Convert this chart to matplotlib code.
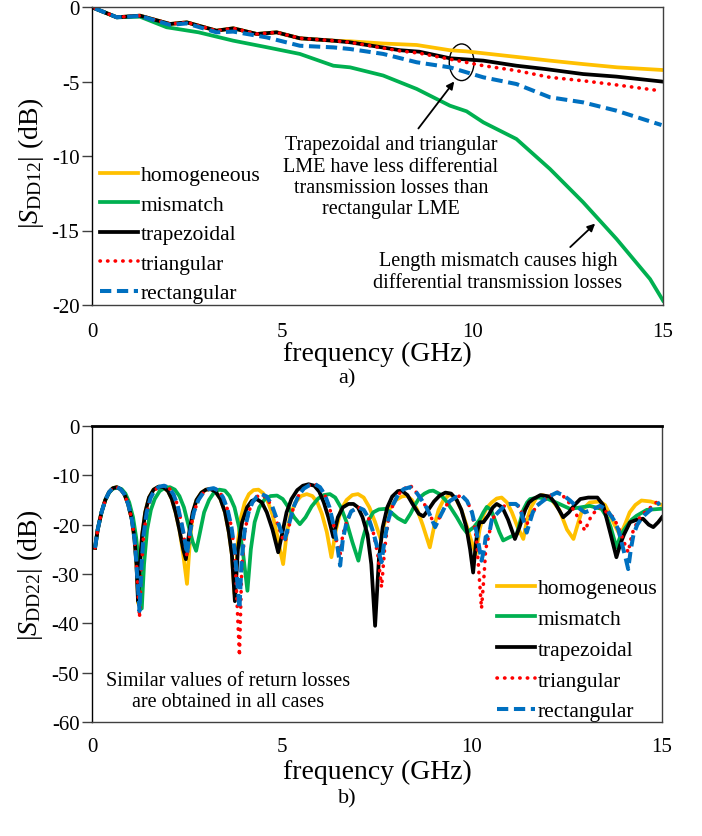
import matplotlib
matplotlib.use("Agg")
import matplotlib.pyplot as plt
from matplotlib.patches import Ellipse

plt.rcParams['font.family'] = ['Liberation Serif', 'DejaVu Serif']
plt.rcParams['mathtext.fontset'] = 'custom'
plt.rcParams['mathtext.rm'] = 'Liberation Serif'
plt.rcParams['mathtext.it'] = 'Liberation Serif:italic'
plt.rcParams['axes.unicode_minus'] = False

labels = ["homogeneous", "mismatch", "trapezoidal", "triangular", "rectangular"]
colors = ["#FFC000", "#00B050", "#000000", "#FF0000", "#0070C0"]

# ---------------- a) |S_DD12| -----------------
f12_common = [0.08, 0.65, 1.26, 2.05, 2.49, 3.27, 3.71, 4.33, 4.85, 5.46, 6.34]
s12_common = [-0.1, -0.69, -0.58, -1.14, -1.03, -1.59, -1.43, -1.81, -1.7, -2.1, -2.26]

f12_homo = f12_common + [6.78, 7.65, 8.53, 9.4, 9.84, 11.15, 12.03, 12.9, 13.8, 15.0]
s12_homo = s12_common + [-2.3, -2.45, -2.55, -2.9, -2.98, -3.35, -3.6, -3.83, -4.05, -4.23]

f12_trap = f12_common + [6.78, 8.09, 8.6, 9.4, 10.28, 11.15, 11.9, 12.9, 13.77, 15.0]
s12_trap = s12_common + [-2.37, -2.9, -3.0, -3.44, -3.6, -3.94, -4.16, -4.5, -4.67, -5.01]

f12_tri = f12_common + [6.78, 8.09, 8.6, 9.4, 10.28, 11.15, 12.03, 12.9, 13.78, 14.92]
s12_tri = s12_common + [-2.37, -2.95, -3.1, -3.5, -3.94, -4.27, -4.72, -4.95, -5.23, -5.62]

f12_rect = [0.08, 0.65, 1.26, 2.05, 2.49, 3.27, 3.71, 4.59, 5.46, 6.34, 6.78, 7.65, 8.53, 9.4, 10.28, 11.15, 12.03, 12.9, 13.78, 14.96]
s12_rect = [-0.1, -0.69, -0.6, -1.2, -1.1, -1.7, -1.65, -2.04, -2.6, -2.71, -2.82, -3.15, -3.71, -4.05, -4.72, -5.17, -6.06, -6.4, -6.96, -7.92]

f12_mis = [0.08, 0.65, 1.26, 1.96, 2.8, 3.71, 4.59, 5.46, 6.34, 6.78, 7.65, 8.53, 9.4, 9.84, 10.28, 11.15, 12.03, 12.9, 13.78, 14.66, 15.0]
s12_mis = [-0.1, -0.69, -0.65, -1.36, -1.7, -2.26, -2.7, -3.15, -3.94, -4.05, -4.6, -5.5, -6.62, -7.0, -7.74, -8.86, -10.87, -13.1, -15.57, -18.26, -19.7]

# ---------------- b) |S_DD22| -----------------
f_arch = [0.08, 0.15, 0.25, 0.35, 0.45, 0.55, 0.65, 0.75, 0.85, 0.95, 1.05, 1.12, 1.17]
s_arch = [-24.7, -21, -17.5, -15, -13.4, -12.6, -12.4, -12.8, -13.8, -15.8, -19, -23, -28]

f_mid = [1.26, 1.32, 1.4, 1.5, 1.62, 1.75, 1.88, 2.0, 2.1, 2.2, 2.3]
s_mid = [-28, -22, -17.5, -14.5, -12.9, -12.3, -12.4, -13.2, -14.8, -17.5, -21]

f22_trap = f_arch + [1.21] + f_mid + [2.4, 2.47, 2.55, 2.65, 2.75, 2.88, 3.0, 3.12, 3.25, 3.38, 3.5, 3.6, 3.68, 3.76,
    3.84, 3.95, 4.08, 4.2, 4.33, 4.47, 4.6, 4.75, 4.9, 5.0, 5.12, 5.25, 5.4, 5.55, 5.7, 5.85, 5.98, 6.1, 6.22, 6.35,
    6.47, 6.6, 6.75, 6.88, 7.0, 7.12, 7.25, 7.35, 7.45, 7.55, 7.65, 7.77, 7.9, 8.05, 8.15, 8.3, 8.45, 8.6, 8.72, 8.85,
    9.0, 9.15, 9.3, 9.45, 9.6, 9.72, 9.85, 9.95, 10.03, 10.1, 10.15, 10.2, 10.3, 10.44, 10.55, 10.65, 10.8, 10.95,
    11.13, 11.25, 11.4, 11.5, 11.61, 11.8, 12.05, 12.2, 12.4, 12.55, 12.7, 12.85, 13.06, 13.3, 13.45, 13.55, 13.65,
    13.8, 13.9, 14.0, 14.16, 14.34, 14.5, 14.65, 14.77, 14.9, 15.0]
s22_trap = s_arch + [-35.5] + s_mid + [-25, -27, -22, -17.5, -15, -13.5, -12.9, -12.8, -13.3, -14.8, -17.5, -21.5, -26, -35.5,
    -25, -19.5, -16.5, -15.2, -14.8, -15.5, -17.5, -21, -25.6, -22, -17.5, -14.8, -13, -12.1, -11.8, -12.1, -13.3, -15.5, -18.5, -22.5,
    -18.5, -16.5, -15.8, -15.8, -16.5, -18.5, -22, -28, -40.5, -27, -20.5, -16.5, -14.3, -13.2, -13.1, -14, -16, -17.8, -18.3, -17,
    -15.3, -14.1, -13.5, -13.7, -15, -17, -20.5, -25, -29.7, -24, -21, -19.5, -19.5, -18, -16.5, -15.8, -16.5, -19,
    -22.9, -20.5, -17, -15.5, -14.8, -14, -14.3, -15.8, -18.5, -17.5, -16, -14.8, -14.5, -14.5, -16, -19, -22,
    -26.6, -24, -22, -19.5, -19, -18.8, -20, -20.5, -19.5, -18.5]

f22_homo = f_arch + [1.22] + f_mid + [2.4, 2.5, 2.58, 2.65, 2.75, 2.88, 3.0, 3.12, 3.25, 3.38, 3.5, 3.6, 3.68, 3.75,
    3.83, 3.92, 4.02, 4.13, 4.25, 4.38, 4.5, 4.62, 4.75, 4.87, 4.96, 5.03, 5.12, 5.22, 5.35, 5.5, 5.65, 5.8, 5.93, 6.05,
    6.18, 6.3, 6.42, 6.55, 6.7, 6.85, 7.0, 7.15, 7.3, 7.45, 7.6, 7.72, 7.85, 8.0, 8.15, 8.28, 8.42, 8.56, 8.7, 8.89,
    9.0, 9.12, 9.25, 9.42, 9.58, 9.72, 9.85, 9.95, 10.1, 10.2, 10.3, 10.4, 10.52, 10.65, 10.78, 10.92, 11.05, 11.2,
    11.35, 11.45, 11.55, 11.7, 11.85, 11.95, 12.1, 12.3, 12.5, 12.67, 12.8, 12.9, 13.1, 13.36, 13.5, 13.6, 13.75,
    13.9, 14.05, 14.15, 14.3, 14.46, 14.7, 15.0]
s22_homo = s_arch + [-36] + s_mid + [-26, -32, -23, -18, -15, -13.5, -12.9, -12.8, -13.3, -14.8, -17.5, -21.5, -26, -34,
    -24, -18.5, -15.5, -13.8, -13, -12.9, -13.6, -15.2, -18, -22, -25.5, -28, -22, -18, -15.5, -14.2, -13.8, -14.2, -15.5, -17.8,
    -21.5, -26.6, -21, -17, -15, -14, -13.8, -14.5, -16.5, -19.5, -23, -19, -16.5, -15, -14.3, -14.1, -15, -17, -20, -24.6,
    -20.5, -17, -15, -13.8, -14.8, -17, -20, -22.5, -26, -21, -18, -16.5, -15.5, -14.7, -14.5, -15.5, -17.5, -20.5,
    -22.9, -19, -16.5, -14.5, -14.0, -14.2, -15, -17, -21, -22.9, -19.5, -17, -15.5, -15.3, -16, -17.5, -20,
    -22.2, -19.5, -17.5, -16, -15.1, -15.3, -16]

f22_mis = [0.08, 0.15, 0.25, 0.35, 0.45, 0.55, 0.67, 0.78, 0.88, 0.98, 1.08, 1.16, 1.24, 1.31, 1.37, 1.45, 1.55, 1.65,
    1.78, 1.92, 2.05, 2.18, 2.3, 2.42, 2.55, 2.65, 2.74, 2.83, 2.95, 3.08, 3.2, 3.35, 3.5, 3.62, 3.75, 3.87, 3.97, 4.09,
    4.18, 4.28, 4.4, 4.55, 4.7, 4.87, 5.02, 5.17, 5.32, 5.47, 5.62, 5.78, 5.95, 6.1, 6.26, 6.4, 6.55, 6.7, 6.85, 7.01,
    7.12, 7.25, 7.4, 7.55, 7.71, 7.87, 8.05, 8.24, 8.38, 8.5, 8.62, 8.75, 8.88, 8.98, 9.15, 9.3, 9.45, 9.6, 9.75, 9.86,
    10.05, 10.2, 10.3, 10.39, 10.5, 10.6, 10.72, 10.82, 11.0, 11.18, 11.28, 11.35, 11.45, 11.53, 11.75, 12.0, 12.3,
    12.58, 12.85, 13.1, 13.41, 13.55, 13.65, 13.8, 13.92, 14.05, 14.2, 14.33, 14.6, 14.95]
s22_mis = [-24.7, -21, -17.5, -15, -13.5, -12.7, -12.5, -12.8, -13.7, -15.5, -18.5, -22.5, -28, -37, -28, -21, -17, -14.8,
    -13.2, -12.5, -12.4, -12.9, -14.2, -16.5, -20.5, -23.5, -25.3, -22, -17.5, -15, -13.6, -12.9, -13.1, -14.2, -16.5, -20.5, -25.5, -33.4,
    -25, -19.5, -16.5, -14.8, -14.2, -14.1, -14.8, -16.5, -18.5, -19.9, -18.5, -16.3, -14.7, -14, -13.8, -14.5, -16.5, -19.5, -23.5, -27.3,
    -23, -19.5, -17.5, -16.9, -16.8, -17.5, -18.7, -19.5, -17.8, -16, -14.5, -13.7, -13.2, -13.1, -13.8, -15, -16.7, -18.5, -20.5, -21.6,
    -20.5, -19, -17.5, -16.4, -17, -19, -21.5, -23.2, -22.5, -21.9, -19, -17, -15.5, -14.8, -14.5, -14.8, -15.8,
    -16.8, -16.5, -16.2, -16.8, -18.5, -20.5, -24.6, -22, -20.5, -19, -18.2, -17, -16.8]

f22_rect = f_arch + [1.25, 1.3, 1.36, 1.44, 1.54, 1.65, 1.77, 1.9, 2.02, 2.14, 2.25, 2.35, 2.43, 2.5, 2.58, 2.68, 2.8,
    2.93, 3.07, 3.2, 3.33, 3.45, 3.57, 3.67, 3.76, 3.88, 3.94, 4.02, 4.12, 4.22, 4.34, 4.46, 4.6, 4.73, 4.87, 5.0, 5.08,
    5.18, 5.3, 5.43, 5.57, 5.72, 5.87, 6.0, 6.13, 6.25, 6.37, 6.45, 6.53, 6.6, 6.7, 6.82, 7.01, 7.15, 7.28, 7.4, 7.52,
    7.62, 7.7, 7.8, 7.92, 8.05, 8.2, 8.37, 8.52, 8.65, 8.8, 8.92, 9.03, 9.15, 9.28, 9.42, 9.58, 9.73, 9.87, 10.0, 10.12,
    10.25, 10.32, 10.36, 10.45, 10.52, 10.6, 10.75, 10.88, 11.0, 11.15, 11.26, 11.35, 11.44, 11.52, 11.6, 11.7, 11.9,
    12.05, 12.23, 12.4, 12.58, 12.75, 12.97, 13.15, 13.37, 13.55, 13.72, 13.85, 13.95, 14.05, 14.11, 14.18, 14.25,
    14.35, 14.42, 14.55, 14.7, 14.85, 14.95]
s22_rect = s_arch + [-37.5, -28.5, -22, -17.5, -14.6, -13, -12.3, -12.1, -12.5, -13.8, -16, -19.5, -22.5, -26, -21.5, -17.5, -15,
    -13.5, -12.8, -12.6, -13.1, -14.5, -17, -20.5, -25.5, -37, -27, -21, -17.5, -15.5, -14.3, -13.8, -14.3, -16, -19, -21.8, -22.9,
    -20, -16.5, -14.2, -12.7, -12, -11.8, -12.4, -14, -16.5, -20.5, -24, -28.3, -23, -19.5, -17.3, -16.5, -17, -18.7, -21.5, -25,
    -27.6, -23, -19, -16, -14, -12.8, -12.4, -13.3, -14.7, -16.5, -18.5, -20.5, -18.5, -16.5, -15.2, -14.4, -14.1, -15.2, -17.5, -21.5,
    -27.3, -25, -22.5, -22, -19, -18.2, -17, -16, -15.8, -15.8, -16.5, -19, -21.6, -19.5, -17.5, -16.2, -15,
    -14.2, -13.5, -14, -15.1, -16.3, -17.5, -17, -16.2, -17, -18.9, -21, -24, -27, -29, -25, -22,
    -20, -19.2, -18, -17, -16, -15.5]

f22_tri = list(f22_rect)
s22_tri = s_arch + [-38.8, -29, -22, -17.5, -14.6, -13, -12.3, -12.1, -12.5, -13.8, -16, -19.5, -23, -26.5, -21.5, -17.5, -15,
    -13.5, -12.8, -12.6, -13.1, -14.5, -17, -20.5, -26, -46.6, -29, -21.5, -17.5, -15.5, -14.3, -14, -14.6, -16.3, -19.5, -22.5, -23.5,
    -20.5, -16.5, -14.2, -12.7, -12, -11.8, -12.4, -14, -16.5, -20.5, -24, -26, -22, -19.5, -17.3, -16.5, -17, -18.7, -21.5, -26,
    -32.7, -25, -19, -16, -14, -12.8, -12, -13.3, -14.7, -16.5, -18.5, -20, -18.5, -16.5, -15.2, -14.4, -14.1, -15.2, -17.5, -23,
    -37, -30, -25, -22, -19, -18.2, -17, -16, -15.8, -15.8, -16.5, -18.5, -20, -18.5, -17.5, -16.2, -15,
    -14.2, -13.3, -14.2, -15.8, -18, -21.2, -18, -16.5, -17.5, -18.5, -20.5, -22.5, -24.5, -25.6, -23, -21,
    -19.5, -18.5, -17.5, -16.5, -15.5, -15.2]

series12 = [(f12_homo, s12_homo), (f12_mis, s12_mis), (f12_trap, s12_trap), (f12_tri, s12_tri), (f12_rect, s12_rect)]
series22 = [(f22_homo, s22_homo), (f22_mis, s22_mis), (f22_trap, s22_trap), (f22_tri, s22_tri), (f22_rect, s22_rect)]

styles = [
    dict(lw=2.7, ls='-'),
    dict(lw=2.7, ls='-'),
    dict(lw=2.7, ls='-'),
    dict(lw=2.6, ls=(0, (0.1, 2.0)), dash_capstyle='round'),
    dict(lw=2.9, ls=(0, (2.8, 1.4))),
]

fig = plt.figure(figsize=(7.02, 8.37), dpi=100)
ax1 = fig.add_axes([92/702, 1-306/837, (663-92)/702, (306-8)/837])
ax2 = fig.add_axes([92/702, 1-723/837, (662-92)/702, (723-427)/837])

for (f, s), lab, c, st in zip(series12, labels, colors, styles):
    ax1.plot(f, s, color=c, label=lab, **st)
for (f, s), lab, c, st in zip(series22, labels, colors, styles):
    ax2.plot(f, s, color=c, label=lab, **st)

for ax, xpad in ((ax1, 12), (ax2, 11)):
    ax.set_xlim(0, 15)
    ax.set_xticks([0, 5, 10, 15])
    ax.tick_params(axis='x', length=0, labelsize=15, pad=xpad)
    ax.tick_params(axis='y', length=7, width=1, color='#404040', labelsize=15, pad=2)
    for sp in ax.spines.values():
        sp.set_color('#404040')
        sp.set_linewidth(1.0)
    ax.spines['left'].set_color('black')

ax1.set_ylim(-20, 0)
ax1.set_yticks([0, -5, -10, -15, -20])
ax1.set_xlabel("frequency (GHz)", fontsize=20, va='center')
ax1.xaxis.set_label_coords(0.5, (306-354)/298)
ax1.set_ylabel(r"$|S_{\mathrm{DD12}}|$ (dB)", fontsize=20, va='center')
ax1.yaxis.set_label_coords((31-92)/571, (306-163)/298)

ax2.set_ylim(-60, 0)
ax2.set_yticks([0, -10, -20, -30, -40, -50, -60])
ax2.set_xlabel("frequency (GHz)", fontsize=20, va='center')
ax2.xaxis.set_label_coords(0.5, (723-772)/296)
ax2.set_ylabel(r"$|S_{\mathrm{DD22}}|$ (dB)", fontsize=20, va='center')
ax2.yaxis.set_label_coords((30-92)/570, (723-575)/296)
ax2.spines['top'].set_color('black')
ax2.spines['top'].set_linewidth(2.0)

leg_kw = dict(frameon=False, fontsize=15.5, handlelength=1.75, handletextpad=0.15,
              borderpad=0.0, borderaxespad=0.0, loc='upper left')
ax1.legend(bbox_to_anchor=(100/702, 1-166/837), bbox_transform=fig.transFigure, labelspacing=0.44, **leg_kw)
ax2.legend(bbox_to_anchor=(497/702, 1-579/837), bbox_transform=fig.transFigure, labelspacing=0.5, **leg_kw)

# annotations, panel a
ax1.add_patch(Ellipse((9.71, -3.71), 0.65, 2.46, fill=False, ec='black', lw=1.0))
ax1.annotate("", xy=(9.56, -4.85), xytext=(8.53, -8.3),
             arrowprops=dict(arrowstyle='-|>', color='black', lw=1.3, mutation_scale=11))
ax1.text(7.85, -11.4, "Trapezoidal and triangular\nLME have less differential\ntransmission losses than\nrectangular LME",
         ha='center', va='center', fontsize=14.5, linespacing=1.17)
ax1.annotate("", xy=(13.27, -14.41), xytext=(12.51, -16.24),
             arrowprops=dict(arrowstyle='-|>', color='black', lw=1.3, mutation_scale=11))
ax1.text(10.66, -17.75, "Length mismatch causes high\ndifferential transmission losses",
         ha='center', va='center', fontsize=14.5, linespacing=1.17)

# annotation, panel b
ax2.text(3.57, -53.7, "Similar values of return losses\nare obtained in all cases",
         ha='center', va='center', fontsize=14.5, linespacing=1.17)

fig.text(347/702, 1-379/837, "a)", ha='center', va='center', fontsize=16)
fig.text(347/702, 1-799/837, "b)", ha='center', va='center', fontsize=16)

fig.savefig("out.png", dpi=100)
